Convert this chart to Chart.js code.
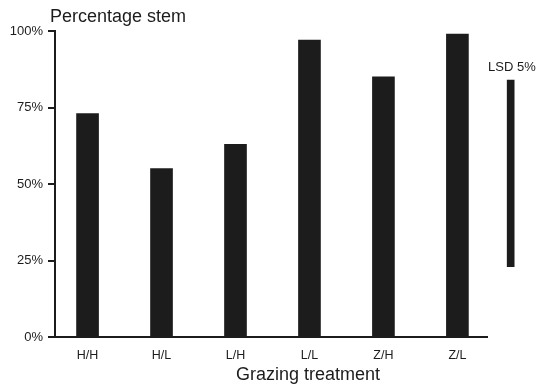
<!DOCTYPE html>
<html>
<head>
<meta charset="utf-8">
<script src="https://cdn.jsdelivr.net/npm/chart.js@4"></script>
<style>
  body { margin: 0; background: #fff; }
  canvas { display: block; }
</style>
</head>
<body>
<canvas id="stemChart" width="539" height="386"></canvas>
<script>
var categories = ['H/H', 'H/L', 'L/H', 'L/L', 'Z/H', 'Z/L'];
var stemPercent = [73, 55, 63, 97, 85, 99];
var lsdRange = [23, 84];
var lsdPosition = 6.72;
var yTicks = [0, 25, 50, 75, 100];

var ink = '#1c1c1c';
var fontFamily = '"Liberation Sans", Arial, Helvetica, sans-serif';

var barData = stemPercent.map(function (v, i) {
    return { x: i + 1, y: v };
});

// extra labels drawn on the canvas (axis title, y title, LSD label)
var textPlugin = {
    id: 'textPlugin',
    afterDraw: function (chart) {
        var ctx = chart.ctx;
        var area = chart.chartArea;
        ctx.save();
        ctx.fillStyle = ink;
        ctx.textBaseline = 'middle';

        ctx.font = '18px ' + fontFamily;
        ctx.textAlign = 'left';
        ctx.fillText('Percentage stem', area.left - 5, 17);

        ctx.textAlign = 'center';
        ctx.fillText('Grazing treatment', 308, 375);

        ctx.font = '13px ' + fontFamily;
        ctx.textAlign = 'left';
        ctx.fillText('LSD 5%', area.right + 1, chart.scales.y.getPixelForValue(lsdRange[1]) - 13);
        ctx.restore();
    }
};

var ctx1 = document.getElementById('stemChart').getContext('2d');
var stemChart = new Chart(ctx1, {
    type: 'bar',
    data: {
        datasets: [{
            label: 'Percentage stem',
            data: barData,
            backgroundColor: ink,
            barThickness: 22
        }, {
            label: 'LSD 5%',
            data: [{ x: lsdPosition, y: lsdRange }],
            backgroundColor: ink,
            barThickness: 7,
            clip: false
        }]
    },
    options: {
        responsive: false,
        animation: false,
        datasets: { bar: { grouped: false } },
        layout: { padding: { top: 31, right: 52, bottom: 0, left: 0 } },
        plugins: {
            legend: { display: false },
            tooltip: { enabled: false }
        },
        scales: {
            x: {
                type: 'linear',
                offset: false,
                min: 0.56,
                max: 6.4,
                afterBuildTicks: function (scale) {
                    scale.ticks = categories.map(function (c, i) { return { value: i + 1 }; });
                },
                afterFit: function (scale) { scale.height = 49; },
                grid: { display: false },
                border: { display: true, color: ink, width: 2 },
                ticks: {
                    padding: 3,
                    color: ink,
                    font: { family: fontFamily, size: 12.5 },
                    maxRotation: 0,
                    callback: function (value) { return categories[value - 1]; }
                }
            },
            y: {
                min: 0,
                max: 100,
                afterBuildTicks: function (scale) {
                    scale.ticks = yTicks.map(function (v) { return { value: v }; });
                },
                afterFit: function (scale) { scale.width = 55; },
                grid: { drawOnChartArea: false, drawTicks: true, tickLength: 7, color: ink, lineWidth: 2 },
                border: { display: true, color: ink, width: 2 },
                ticks: {
                    padding: 5,
                    color: ink,
                    font: { family: fontFamily, size: 13 },
                    callback: function (value) { return value + '%'; }
                }
            }
        }
    },
    plugins: [textPlugin]
});
</script>
</body>
</html>
